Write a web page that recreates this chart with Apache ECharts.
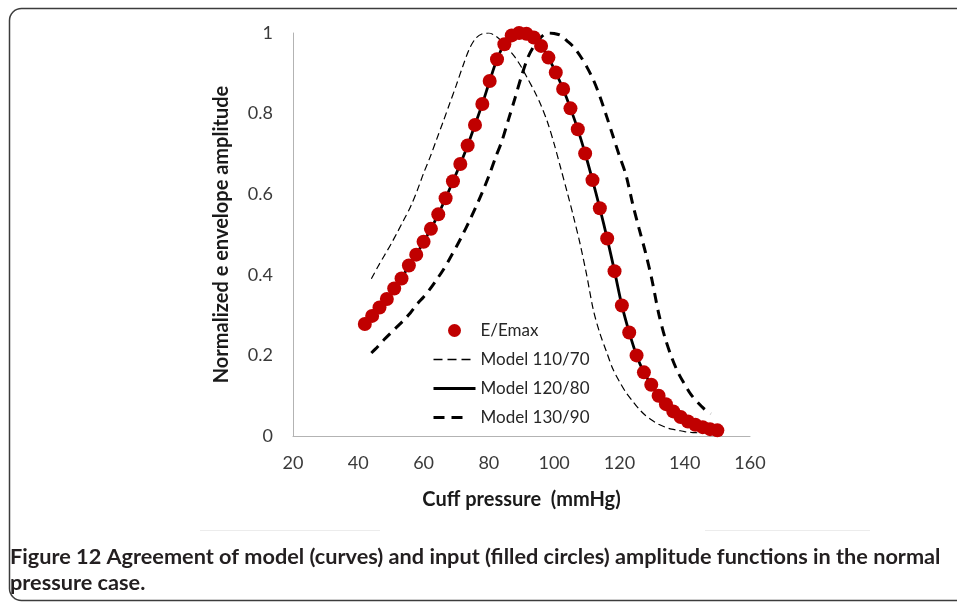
<!DOCTYPE html>
<html>
<head>
<meta charset="utf-8">
<script src="https://cdn.jsdelivr.net/npm/echarts@6/dist/echarts.min.js"></script>
<style>
html,body{margin:0;padding:0;background:#fff;}
#chart{width:957px;height:602px;}
</style>
</head>
<body>
<div id="chart"></div>
<script>
// ---- data ----
var xTicks = [20, 40, 60, 80, 100, 120, 140, 160];
var yTicks = [0, 0.2, 0.4, 0.6, 0.8, 1];

var eX = [42, 44.25, 46.5, 48.75, 51, 53.25, 55.5, 57.75, 60, 62.25, 64.5, 66.75, 69, 71.25, 73.5, 75.75, 78, 80.25, 82.5, 84.75, 87, 89.25, 91.5, 93.75, 96, 98.25, 100.5, 102.75, 105, 107.25, 109.5, 111.75, 114, 116.25, 118.5, 120.75, 123, 125.25, 127.5, 129.75, 132, 134.25, 136.5, 138.75, 141, 143.25, 145.5, 147.75, 150];
var eY = [0.278, 0.298, 0.319, 0.340, 0.366, 0.391, 0.423, 0.450, 0.482, 0.514, 0.550, 0.590, 0.632, 0.675, 0.721, 0.772, 0.824, 0.881, 0.935, 0.972, 0.994, 1.000, 0.998, 0.989, 0.968, 0.939, 0.902, 0.861, 0.813, 0.761, 0.701, 0.635, 0.565, 0.490, 0.409, 0.324, 0.257, 0.200, 0.158, 0.127, 0.100, 0.079, 0.061, 0.047, 0.036, 0.028, 0.022, 0.017, 0.014];

var m120X = [42, 44.25, 46.5, 48.75, 51, 53.25, 55.5, 57.75, 60, 62.25, 64.5, 66.75, 69, 71.25, 73.5, 75.75, 78, 80.25, 82.5, 84.75, 87, 89.25, 91.5, 93.75, 96, 98.25, 100.5, 102.75, 105, 107.25, 109.5, 111.75, 114, 116.25, 118.5, 120.75, 123, 125.25, 127.5, 129.75, 132, 134.25, 136.5, 138.75, 141, 143.25, 145.5, 147.75, 150];
var m120Y = [0.278, 0.298, 0.319, 0.340, 0.366, 0.391, 0.423, 0.450, 0.482, 0.514, 0.550, 0.590, 0.632, 0.675, 0.721, 0.772, 0.824, 0.881, 0.935, 0.972, 0.994, 1.000, 0.998, 0.989, 0.968, 0.939, 0.902, 0.861, 0.813, 0.761, 0.701, 0.635, 0.565, 0.490, 0.409, 0.324, 0.257, 0.200, 0.158, 0.127, 0.100, 0.079, 0.061, 0.047, 0.036, 0.028, 0.022, 0.017, 0.014];

var m110X = [44, 46, 48, 50, 52, 54, 56, 58, 60, 62, 64, 66, 68, 70, 72, 74, 76, 78, 80, 82, 84, 86, 88, 90, 92, 94, 96, 98, 100, 102, 104, 106, 108, 110, 112, 114, 116, 118, 120, 122, 124, 126, 128, 130, 132, 134, 136, 138, 140, 142, 144, 146];
var m110Y = [0.390, 0.420, 0.448, 0.476, 0.506, 0.537, 0.569, 0.608, 0.652, 0.692, 0.736, 0.780, 0.825, 0.870, 0.917, 0.960, 0.987, 0.998, 1.000, 0.993, 0.979, 0.960, 0.940, 0.915, 0.885, 0.855, 0.820, 0.778, 0.725, 0.665, 0.605, 0.542, 0.475, 0.398, 0.313, 0.255, 0.210, 0.166, 0.135, 0.108, 0.087, 0.067, 0.051, 0.039, 0.029, 0.022, 0.017, 0.014, 0.011, 0.009, 0.008, 0.007];

var m130X = [44, 46, 48, 50, 52, 54, 56, 58, 60, 62, 64, 66, 68, 70, 72, 74, 76, 78, 80, 82, 84, 86, 88, 90, 92, 94, 96, 98, 100, 102, 104, 106, 108, 110, 112, 114, 116, 118, 120, 122, 124, 126, 128, 130, 132, 134, 136, 138, 140, 142, 144, 146, 148];
var m130Y = [0.206, 0.222, 0.240, 0.256, 0.272, 0.288, 0.306, 0.327, 0.345, 0.365, 0.388, 0.412, 0.440, 0.469, 0.500, 0.533, 0.568, 0.605, 0.645, 0.690, 0.732, 0.785, 0.838, 0.893, 0.940, 0.970, 0.990, 1.000, 0.999, 0.994, 0.980, 0.965, 0.943, 0.916, 0.884, 0.843, 0.795, 0.745, 0.695, 0.648, 0.578, 0.515, 0.455, 0.386, 0.305, 0.243, 0.195, 0.157, 0.128, 0.102, 0.083, 0.067, 0.055];

var seriesNames = ['E/Emax', 'Model 110/70', 'Model 120/80', 'Model 130/90'];
var xName = 'Cuff pressure  (mmHg)';
var yName = 'Normalized e envelope amplitude';
var captionBold = 'Figure 12';
var captionLine1 = ' Agreement of model (curves) and input (filled circles) amplitude functions in the normal';
var captionLine2 = 'pressure case.';

function pairs(xs, ys) { return xs.map(function (x, i) { return [x, ys[i]]; }); }

var FONT = 'Lato, "Open Sans", sans-serif';
var chart = echarts.init(document.getElementById('chart'), null, { renderer: 'canvas' });

chart.setOption({
  animation: false,
  backgroundColor: '#ffffff',
  textStyle: { fontFamily: FONT },
  title: {
    left: 10, top: 544, padding: 0,
    text: '{b|' + captionBold + '}{n|' + captionLine1 + '}\n{n|' + captionLine2 + '}',
    textStyle: {
      fontFamily: FONT,
      rich: {
        b: { fontWeight: 'bold', fontSize: 21.7, color: '#231f20', fontFamily: FONT, lineHeight: 26 },
        n: { fontWeight: 'bold', fontSize: 21.7, color: '#231f20', fontFamily: FONT, lineHeight: 26 }
      }
    }
  },
  graphic: [
    { type: 'rect', shape: { x: 9.5, y: 8.5, width: 960, height: 592, r: 12 }, style: { fill: 'none', stroke: '#3c3c3c', lineWidth: 1.5 }, silent: true },
    { type: 'line', shape: { x1: 200, y1: 530.5, x2: 380, y2: 530.5 }, style: { stroke: '#ececec', lineWidth: 1 }, silent: true },
    { type: 'line', shape: { x1: 705, y1: 530.5, x2: 870, y2: 530.5 }, style: { stroke: '#ececec', lineWidth: 1 }, silent: true }
  ],
  legend: {
    orient: 'vertical',
    left: 432, top: 322, padding: 0,
    itemWidth: 42, itemHeight: 13, itemGap: 12,
    data: [
      { name: seriesNames[0] },
      { name: seriesNames[1], lineStyle: { type: [9, 5], width: 1.3 } },
      { name: seriesNames[2], lineStyle: { width: 3 } },
      { name: seriesNames[3], lineStyle: { type: [11, 7, 11, 20], width: 3 } }
    ],
    textStyle: { fontFamily: FONT, fontSize: 17, color: '#262626' }
  },
  grid: { left: 293, right: 207, top: 33, bottom: 166, containLabel: false },
  xAxis: {
    type: 'value', min: xTicks[0], max: xTicks[xTicks.length - 1], interval: 20,
    name: xName, nameLocation: 'middle', nameGap: 54,
    nameTextStyle: { fontFamily: FONT, fontWeight: 'bold', fontSize: 20, color: '#1a1a1a' },
    axisLine: { show: true, lineStyle: { color: '#b3b3b3', width: 1 } },
    axisTick: { show: false },
    splitLine: { show: false },
    axisLabel: { margin: 18, fontFamily: FONT, fontSize: 18, color: '#3a3a3a' }
  },
  yAxis: {
    type: 'value', min: yTicks[0], max: yTicks[yTicks.length - 1], interval: 0.2,
    name: yName, nameLocation: 'middle', nameGap: 61, nameRotate: 90,
    nameTextStyle: { fontFamily: FONT, fontWeight: 'bold', fontSize: 20, color: '#1a1a1a' },
    axisLine: { show: true, lineStyle: { color: '#b3b3b3', width: 1 } },
    axisTick: { show: false },
    splitLine: { show: false },
    axisLabel: { margin: 20, fontFamily: FONT, fontSize: 18, color: '#3a3a3a' }
  },
  series: [
    {
      name: seriesNames[0], type: 'scatter', z: 5,
      data: pairs(eX, eY), symbol: 'circle', symbolSize: 14,
      itemStyle: { color: '#c00000', opacity: 1 }
    },
    {
      name: seriesNames[1], type: 'line', z: 3, smooth: 0.3,
      data: pairs(m110X, m110Y), symbol: 'none', showSymbol: false,
      itemStyle: { color: '#000000', opacity: 0 },
      lineStyle: { color: '#000000', width: 1.2, type: [7, 4], opacity: 1 }
    },
    {
      name: seriesNames[2], type: 'line', z: 3, smooth: 0.3,
      data: pairs(m120X, m120Y), symbol: 'none', showSymbol: false,
      itemStyle: { color: '#000000', opacity: 0 },
      lineStyle: { color: '#000000', width: 2.8, type: 'solid', opacity: 1 }
    },
    {
      name: seriesNames[3], type: 'line', z: 3, smooth: 0.3,
      data: pairs(m130X, m130Y), symbol: 'none', showSymbol: false,
      itemStyle: { color: '#000000', opacity: 0 },
      lineStyle: { color: '#000000', width: 3, type: [10, 7], opacity: 1 }
    }
  ]
});
</script>
</body>
</html>
